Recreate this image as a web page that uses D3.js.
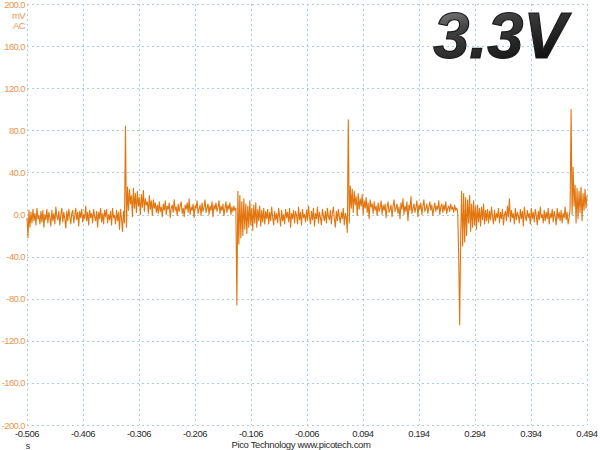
<!DOCTYPE html>
<html>
<head>
<meta charset="utf-8">
<script src="https://cdn.jsdelivr.net/npm/d3@7"></script>
<style>
  html, body { margin: 0; padding: 0; background: #fff; }
  svg { display: block; }
</style>
</head>
<body>
<svg id="chart" width="600" height="450"></svg>
<script>
// ---- data ----
const title = "3.3V";
const xTickLabels = ["-0.506","-0.406","-0.306","-0.206","-0.106","-0.006","0.094","0.194","0.294","0.394","0.494"];
const yTickLabels = ["200.0","160.0","120.0","80.0","40.0","0.0","-40.0","-80.0","-120.0","-160.0","-200.0"];
const yUnit = ["mV", "AC"];
const xUnit = "s";
const footer = "Pico Technology  www.picotech.com";
const timeStart = -0.506;   // s, first sample
const timeEnd = 0.494;      // s, last sample
// voltage samples (mV), evenly spaced from timeStart to timeEnd
const voltages = [
  -3,-22,4,-12,2,-8,5,-6,1,-10,6,-4,-1,-9,3,-7,4,-12,0,-5,
  5,-8,2,-3,-11,4,-6,1,-9,7,-2,-5,3,-10,0,6,-7,2,-4,-13,
  3,-6,5,-2,-9,1,4,-8,-1,6,-5,2,-11,3,-3,5,-7,0,-4,8,
  -6,2,-10,4,-3,1,-8,5,-2,-6,3,-12,2,-4,6,-7,1,-9,4,-2,
  5,-8,0,-5,3,-10,6,-3,-1,-9,4,-6,2,-14,5,-4,-16,3,
  -8,84,-12,
  26,4,24,10,18,-2,25,6,20,2,22,8,16,0,19,7,23,3,15,9,12,1,18,5,13,-1,14,6,11,2,
  9,1,12,3,7,-2,10,4,13,0,8,5,11,-3,6,9,2,14,4,7,
  -1,10,3,8,12,1,6,-2,9,5,11,2,15,0,7,4,10,-3,8,6,
  13,1,5,9,-1,11,3,7,14,2,6,10,0,8,4,12,-2,9,5,11,
  3,7,13,1,8,4,10,-1,6,12,2,9,5,11,0,7,3,8,4,6,
  -86,
  22,-28,18,-22,12,-20,15,-14,10,-18,8,-12,13,-10,6,-15,9,-8,11,-12,5,-6,8,-11,4,-7,6,-9,3,
  -4,5,-9,2,-6,7,-3,-10,3,-5,1,-8,6,-2,-11,4,-6,0,-9,5,
  -3,2,-7,6,-12,1,-4,4,-8,3,-1,-9,7,-5,2,-10,5,-3,0,-7,
  4,-6,8,-2,-9,3,-5,6,-11,1,-4,7,-8,2,-3,-10,5,-1,-6,3,
  -8,6,-2,-5,4,-9,1,7,-4,-12,3,-6,5,-2,-8,2,-4,6,-10,1,-3,-17,
  90,-8,
  27,6,24,2,22,9,17,-1,20,5,15,8,19,0,13,6,16,2,11,-4,14,7,10,1,12,4,
  8,-1,11,3,6,13,0,9,4,10,-3,7,12,2,5,9,-2,8,14,3,
  6,10,1,7,-4,11,5,15,0,8,3,12,-6,9,4,17,1,6,10,2,
  7,13,-2,9,5,11,0,8,14,3,6,10,1,7,12,4,9,-1,6,11,
  3,8,5,13,0,7,10,2,9,4,12,1,6,8,3,10,5,7,2,9,4,6,3,
  -40,-105,
  -20,22,-30,20,-26,16,-20,14,-8,18,-16,10,-12,13,-10,8,-14,9,-7,6,-11,7,-5,10,-9,4,-6,5,-8,
  3,-5,7,-2,-9,4,-6,1,-3,6,-8,2,-4,5,-10,0,3,-6,8,-2,
  15,-7,4,-3,1,-9,6,-5,2,-1,-8,5,-4,3,-11,7,-2,-6,4,-3,
  1,-9,6,-4,2,-7,5,-1,-10,3,-5,7,-3,0,-8,4,-6,2,-4,6,
  -9,1,-3,5,-7,3,-2,-10,6,-4,2,-6,4,-8,1,-3,7,-5,2,-9,-4,
  6,100,
  0,45,8,28,-8,25,-4,22,2,26,-6,20,4,24,6,18
];

// ---- layout ----
const svg = d3.select("#chart");
const plotL = 27, plotR = 587, plotT = 4, plotB = 425;
const FONT = "Liberation Sans, Arial, sans-serif";

const x = d3.scaleLinear().domain([timeStart, timeEnd]).range([plotL, plotR]);
const y = d3.scaleLinear().domain([-200, 200]).range([plotB, plotT]);
const sampleTime = d3.scaleLinear().domain([0, voltages.length - 1]).range([timeStart, timeEnd]);

const xTickVals = xTickLabels.map(Number);
const yTickVals = yTickLabels.map(Number);

const gridColor = "#a9cfdf";

// grid
svg.append("g").selectAll("line").data(xTickVals).join("line")
  .attr("x1", d => Math.round(x(d)) + 0.5).attr("x2", d => Math.round(x(d)) + 0.5)
  .attr("y1", plotT).attr("y2", plotB)
  .attr("stroke", gridColor).attr("stroke-width", 1).attr("stroke-dasharray", "2,3");
svg.append("g").selectAll("line").data(yTickVals).join("line")
  .attr("x1", plotL).attr("x2", plotR)
  .attr("y1", d => Math.round(y(d)) + 0.5).attr("y2", d => Math.round(y(d)) + 0.5)
  .attr("stroke", gridColor).attr("stroke-width", 1).attr("stroke-dasharray", "2,3");

// title
const defs = svg.append("defs");
const grad = defs.append("linearGradient").attr("id", "tg")
  .attr("x1", "0").attr("y1", "0").attr("x2", "0.6").attr("y2", "1");
grad.append("stop").attr("offset", "0%").attr("stop-color", "#a0a0a0");
grad.append("stop").attr("offset", "40%").attr("stop-color", "#404040");
grad.append("stop").attr("offset", "100%").attr("stop-color", "#0c0c0c");
svg.append("text")
  .attr("x", 500).attr("y", 58)
  .attr("text-anchor", "middle")
  .attr("font-family", FONT)
  .attr("font-weight", "bold").attr("font-style", "italic")
  .attr("font-size", 65)
  .attr("fill", "url(#tg)")
  .attr("stroke", "#1a1a1a").attr("stroke-width", 1.2)
  .text(title);

// trace
const line = d3.line()
  .x((d, i) => x(sampleTime(i)))
  .y(d => y(d));
svg.append("path")
  .datum(voltages)
  .attr("d", line)
  .attr("fill", "none")
  .attr("stroke", "#e2750e")
  .attr("stroke-width", 1.1)
  .attr("stroke-linejoin", "round");

// y labels
const yLab = svg.append("g")
  .attr("font-family", FONT)
  .attr("font-size", 9.5).attr("letter-spacing", "-0.6px")
  .attr("fill", "#ec9650").attr("text-anchor", "end");
yLab.selectAll("text.t").data(yTickVals).join("text").attr("class", "t")
  .attr("x", 25).attr("y", d => d === 200 ? 7.5 : y(d) + 3.5)
  .text((d, i) => yTickLabels[i]);
yLab.selectAll("text.u").data(yUnit).join("text").attr("class", "u")
  .attr("x", 25).attr("y", (d, i) => 18.5 + i * 10)
  .text(d => d);

// x labels
const xLab = svg.append("g")
  .attr("font-family", FONT)
  .attr("font-size", 9.5).attr("letter-spacing", "-0.5px")
  .attr("fill", "#2a2a2a").attr("text-anchor", "middle");
xLab.selectAll("text").data(xTickVals).join("text")
  .attr("x", d => x(d)).attr("y", 437)
  .text((d, i) => xTickLabels[i]);
svg.append("text").attr("x", 28).attr("y", 449)
  .attr("font-family", FONT)
  .attr("font-size", 9).attr("fill", "#2a2a2a").attr("text-anchor", "middle")
  .text(xUnit);
svg.append("text").attr("x", 301).attr("y", 448)
  .attr("font-family", FONT)
  .attr("font-size", 9.5).attr("letter-spacing", "-0.35px")
  .attr("fill", "#2a2a2a").attr("text-anchor", "middle")
  .text(footer);
</script>
</body>
</html>
